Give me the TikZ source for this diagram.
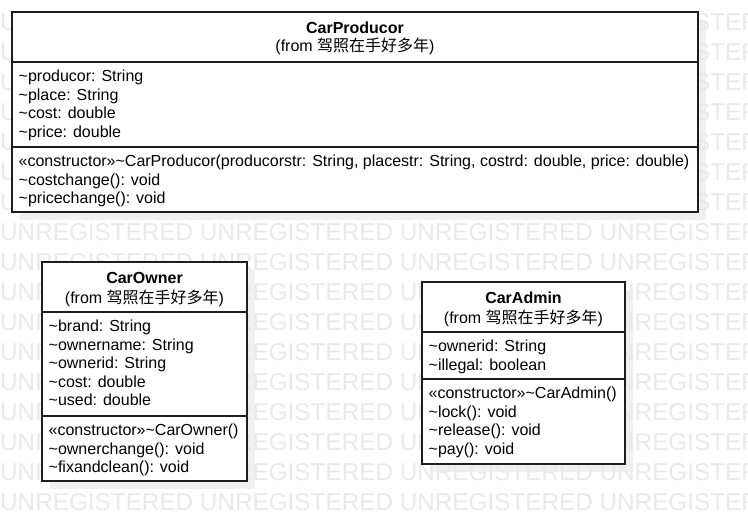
\documentclass[tikz,border=0pt]{standalone}
\usepackage{fontspec}
\setmainfont{Liberation Sans}
\newfontfamily\cjk{Noto Sans CJK SC}
\definecolor{wmc}{RGB}{233,233,233}
\definecolor{shc}{RGB}{240,240,240}
\definecolor{edgec}{RGB}{30,30,30}
\newcommand\tld{\textasciitilde}
\newcommand\fromtxt{(from {\cjk 驾照在手好多年})}
\tikzset{
  classpart/.style={draw=edgec, line width=1.1pt, fill=white, rectangle, anchor=north west, inner sep=0pt, outer sep=0pt},
  shadowbox/.style={fill=shc, rectangle, anchor=north west, inner sep=0pt, outer sep=0pt},
  ln/.style={anchor=base west, inner sep=0pt, font=\fontsize{16}{18}\selectfont},
  ttl/.style={anchor=base, inner sep=0pt, font=\fontsize{16}{18}\selectfont\bfseries},
  frm/.style={anchor=base, inner sep=0pt, font=\fontsize{16}{18}\selectfont},
  wm/.style={anchor=base west, inner sep=0pt, text=wmc, font=\fontsize{24.3}{29}\selectfont},
}
\begin{document}
\begin{tikzpicture}[x=1pt,y=-1pt]
\useasboundingbox[fill=white] (0,0) rectangle (748,531);
% shadows
\node[shadowbox, minimum width=686pt, minimum height=200pt] (prodshadow) at (20,20) {};
\node[shadowbox, minimum width=205pt, minimum height=219pt] (ownshadow) at (50,270) {};
\node[shadowbox, minimum width=203pt, minimum height=182pt] (admshadow) at (430,290) {};
% watermark
\foreach \k in {0,...,16}{
  \node[wm] (wm-\k) at (0,{30.4+30*\k}) {UNREGISTERED UNREGISTERED UNREGISTERED UNREGISTERED};
}
% CarProducor
\node[classpart, minimum width=686pt, minimum height=50pt] (prodhead) at (12,12) {};
\node[classpart, minimum width=686pt, minimum height=85pt] (prodattr) at (12,62) {};
\node[classpart, minimum width=686pt, minimum height=65pt] (prodmeth) at (12,147) {};
\node[ttl] (prodtitle) at (355,33.3) {CarProducor};
\node[frm] (prodfrom) at (355,51.3) {\fromtxt};
\foreach \t [count=\i from 0] in {{\tld producor: String},{\tld place: String},{\tld cost: double},{\tld price: double}}{
  \node[ln] (prodattr-\i) at (18.5,{81.7+18.5*\i}) {\t};
}
\foreach \t [count=\i from 0] in {{«constructor»\tld CarProducor(producorstr: String, placestr: String, costrd: double, price: double)},{\tld costchange(): void},{\tld pricechange(): void}}{
  \node[ln] (prodmeth-\i) at (18.5,{166.7+18.5*\i}) {\t};
}
% CarOwner
\node[classpart, minimum width=205pt, minimum height=50pt] (ownhead) at (42,262) {};
\node[classpart, minimum width=205pt, minimum height=104pt] (ownattr) at (42,312) {};
\node[classpart, minimum width=205pt, minimum height=65pt] (ownmeth) at (42,416) {};
\node[ttl] (owntitle) at (144.5,283.3) {CarOwner};
\node[frm] (ownfrom) at (144.5,303.3) {\fromtxt};
\foreach \t [count=\i from 0] in {{\tld brand: String},{\tld ownername: String},{\tld ownerid: String},{\tld cost: double},{\tld used: double}}{
  \node[ln] (ownattr-\i) at (48.5,{331.7+18.5*\i}) {\t};
}
\foreach \t [count=\i from 0] in {{«constructor»\tld CarOwner()},{\tld ownerchange(): void},{\tld fixandclean(): void}}{
  \node[ln] (ownmeth-\i) at (48.5,{435.7+18.5*\i}) {\t};
}
% CarAdmin
\node[classpart, minimum width=203pt, minimum height=50pt] (admhead) at (422,282) {};
\node[classpart, minimum width=203pt, minimum height=47pt] (admattr) at (422,332) {};
\node[classpart, minimum width=203pt, minimum height=85pt] (admmeth) at (422,379) {};
\node[ttl] (admtitle) at (523.5,303.3) {CarAdmin};
\node[frm] (admfrom) at (523.5,323.3) {\fromtxt};
\foreach \t [count=\i from 0] in {{\tld ownerid: String},{\tld illegal: boolean}}{
  \node[ln] (admattr-\i) at (428.5,{351.7+18.5*\i}) {\t};
}
\foreach \t [count=\i from 0] in {{«constructor»\tld CarAdmin()},{\tld lock(): void},{\tld release(): void},{\tld pay(): void}}{
  \node[ln] (admmeth-\i) at (428.5,{398.7+18.5*\i}) {\t};
}
\end{tikzpicture}
\end{document}
